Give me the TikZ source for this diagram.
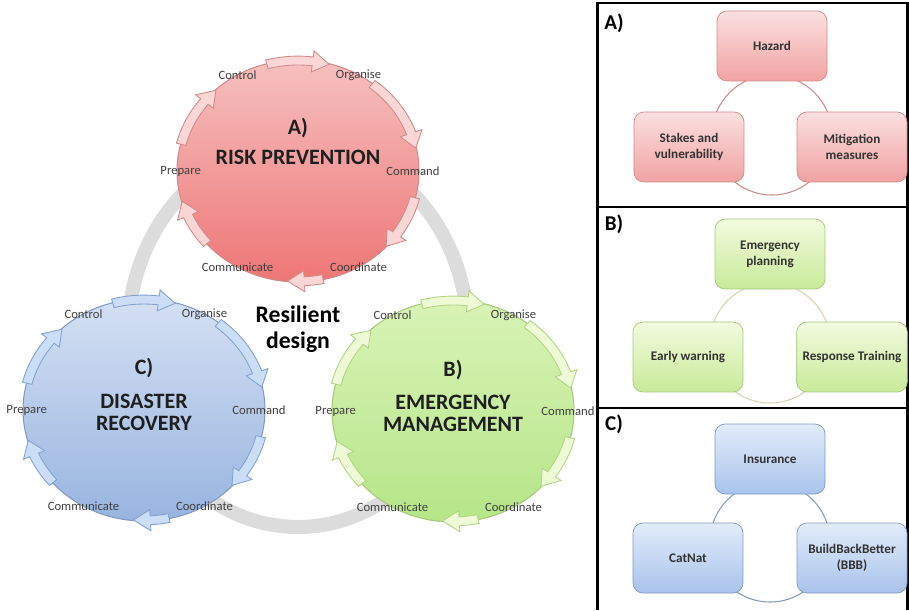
\documentclass[tikz,border=0pt]{standalone}
\usepackage{fontspec}
\setmainfont{Carlito}

\definecolor{ringgray}{HTML}{DCDCDC}
\definecolor{aTop}{HTML}{F6C0C0}
\definecolor{aBot}{HTML}{EE7676}
\definecolor{aEdge}{HTML}{CF8A8A}
\definecolor{aArrow}{HTML}{FAD6D6}
\definecolor{aArrowEdge}{HTML}{D08C8C}
\definecolor{bTop}{HTML}{D9F3B6}
\definecolor{bBot}{HTML}{B6E589}
\definecolor{bEdge}{HTML}{A6C97A}
\definecolor{bRing}{HTML}{D8D2AC}
\definecolor{bArrow}{HTML}{EEF9D6}
\definecolor{bArrowEdge}{HTML}{B3D488}
\definecolor{cTop}{HTML}{D4E0F3}
\definecolor{cBot}{HTML}{98B4DF}
\definecolor{cEdge}{HTML}{8199C0}
\definecolor{cArrow}{HTML}{CCDEF6}
\definecolor{cArrowEdge}{HTML}{82A2CF}
\definecolor{aBoxTop}{HTML}{FBE0E0}
\definecolor{aBoxBot}{HTML}{F1A2A2}
\definecolor{bBoxTop}{HTML}{F3FBE0}
\definecolor{bBoxBot}{HTML}{C8EA98}
\definecolor{cBoxTop}{HTML}{E2ECFA}
\definecolor{cBoxBot}{HTML}{A9C3EC}

\tikzset{
  rimlabel/.style={font=\fontsize{7.2}{8}\selectfont, text=black!75, inner sep=1pt},
  cycletitle/.style={font=\fontsize{12.5}{12.5}\selectfont\bfseries, text=black!88, align=center},
  panelbox/.style={draw=#1, rounded corners=0.2cm, minimum width=2.2cm, minimum height=1.4cm,
    align=center, font=\fontsize{7.5}{9}\selectfont\bfseries, text=black!80},
  paneltag/.style={font=\fontsize{12}{12}\selectfont\bfseries},
  panelframe/.style={line width=1.7pt},
}

\newcommand{\rimarrow}[4]{%
  \pgfmathsetmacro{\hb}{#2+8}%
  \filldraw[fill=#3, draw=#4, line width=0.5pt]
    (#1:1.035) arc[start angle=#1, end angle=\hb, radius=1.035]
    -- (\hb:1.09) -- (#2:0.995) -- (\hb:0.90)
    -- (\hb:0.955) arc[start angle=\hb, end angle=#1, radius=0.955] -- cycle;}

\begin{document}
\begin{tikzpicture}[x=0.02cm, y=0.02cm]

      \useasboundingbox (0,0) rectangle (909,610);

      \draw[line width=8pt, ringgray] (298,275) ellipse[x radius=170, y radius=192];

      \begin{scope}[shift={(298,439)}, xscale=121, yscale=111]
        \draw[draw=aEdge, line width=0.6pt, top color=aTop, bottom color=aBot] (0,0) circle[radius=1];
        \foreach \s/\e in {105/75, 52/12, -14/-43, -78/-95, -139/-164, 166/133}
          \rimarrow{\s}{\e}{aArrow}{aArrowEdge};
        \begin{scope}[every node/.style={rimlabel}]
          \node (aControl)  at (120:1)    {Control};
          \node (aOrganise) at (60:1)     {Organise};
          \node (aCommand)  at (0:0.95)   {Command};
          \node (aCoord)    at (-60:1)    {Coordinate};
          \node (aComm)     at (-120:1)   {Communicate};
          \node (aPrepare)  at (180:0.97) {Prepare};
        \end{scope}
        \node[cycletitle] (aTag)   at (0,0.39) {A)};
        \node[cycletitle] (aTitle) at (0,0.12) {RISK PREVENTION};
      \end{scope}

      \begin{scope}[shift={(453,199)}, xscale=121, yscale=111]
        \draw[draw=bEdge, line width=0.6pt, top color=bTop, bottom color=bBot] (0,0) circle[radius=1];
        \foreach \s/\e in {105/75, 52/12, -14/-43, -78/-95, -139/-164, 166/133}
          \rimarrow{\s}{\e}{bArrow}{bArrowEdge};
        \begin{scope}[every node/.style={rimlabel}]
          \node (bControl)  at (120:1)    {Control};
          \node (bOrganise) at (60:1)     {Organise};
          \node (bCommand)  at (0:0.95)   {Command};
          \node (bCoord)    at (-60:1)    {Coordinate};
          \node (bComm)     at (-120:1)   {Communicate};
          \node (bPrepare)  at (180:0.97) {Prepare};
        \end{scope}
        \node[cycletitle] (bTag)   at (0,0.37)   {B)};
        \node[cycletitle] (bTitle) at (0,-0.02) {EMERGENCY\\MANAGEMENT};
      \end{scope}

      \begin{scope}[shift={(144,200)}, xscale=121, yscale=111]
        \draw[draw=cEdge, line width=0.6pt, top color=cTop, bottom color=cBot] (0,0) circle[radius=1];
        \foreach \s/\e in {105/75, 52/12, -14/-43, -78/-95, -139/-164, 166/133}
          \rimarrow{\s}{\e}{cArrow}{cArrowEdge};
        \begin{scope}[every node/.style={rimlabel}]
          \node (cControl)  at (120:1)    {Control};
          \node (cOrganise) at (60:1)     {Organise};
          \node (cCommand)  at (0:0.95)   {Command};
          \node (cCoord)    at (-60:1)    {Coordinate};
          \node (cComm)     at (-120:1)   {Communicate};
          \node (cPrepare)  at (180:0.97) {Prepare};
        \end{scope}
        \node[cycletitle] (cTag)   at (0,0.38)   {C)};
        \node[cycletitle] (cTitle) at (0,-0.02) {DISASTER\\RECOVERY};
      \end{scope}

      \node[font=\fontsize{13.5}{14.8}\selectfont\bfseries, align=center] (resilient) at (298,281) {Resilient\\design};

      \draw[panelframe] (597,0) -- (597,607) -- (907,607) -- (907,0);
      \draw[panelframe] (597,403) -- (907,403);
      \draw[panelframe] (597,202) -- (907,202);

      \draw[aEdge, line width=0.6pt] (772,475) circle[radius=60];
      \draw[bRing, line width=0.6pt] (770,267) circle[radius=60];
      \draw[cEdge, line width=0.6pt] (770,68) circle[radius=60];

      \node[paneltag] (aPanel) at (614,587) {A)};
      \node[paneltag] (bPanel) at (614,386) {B)};
      \node[paneltag] (cPanel) at (614,186) {C)};

      \begin{scope}[every node/.style={panelbox=aEdge, top color=aBoxTop, bottom color=aBoxBot}]
        \node (hazard)     at (772,564) {Hazard};
        \node (stakes)     at (689,463) {Stakes and\\vulnerability};
        \node (mitigation) at (852,463) {Mitigation\\measures};
      \end{scope}

      \begin{scope}[every node/.style={panelbox=bEdge, top color=bBoxTop, bottom color=bBoxBot}]
        \node (planning) at (770,356) {Emergency\\planning};
        \node (warning)  at (688,253) {Early warning};
        \node (training) at (852,253) {Response Training};
      \end{scope}

      \begin{scope}[every node/.style={panelbox=cEdge, top color=cBoxTop, bottom color=cBoxBot}]
        \node (insurance) at (770,151) {Insurance};
        \node (catnat)    at (688,52)  {CatNat};
        \node (bbb)       at (852,52)  {BuildBackBetter\\(BBB)};
      \end{scope}

    \end{tikzpicture}
\end{document}
